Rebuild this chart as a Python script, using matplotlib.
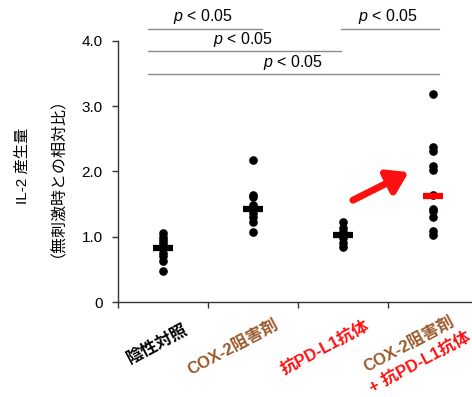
import matplotlib
matplotlib.use("Agg")
import matplotlib.pyplot as plt
import matplotlib.transforms as mtransforms

plt.rcParams['font.family'] = ['Liberation Sans', 'Noto Sans CJK JP']
plt.rcParams['mathtext.fontset'] = 'custom'
plt.rcParams['mathtext.it'] = 'Liberation Sans:italic'
plt.rcParams['mathtext.rm'] = 'Liberation Sans'

# data
groups = ["陰性対照", "COX-2阻害剤", "抗PD-L1抗体", "COX-2阻害剤\n+ 抗PD-L1抗体"]
values = [
    [1.05, 1.00, 0.95, 0.90, 0.82, 0.75, 0.70, 0.63, 0.47],
    [2.18, 1.64, 1.61, 1.49, 1.44, 1.36, 1.31, 1.23, 1.08],
    [1.23, 1.13, 1.08, 1.03, 0.98, 0.90, 0.85],
    [3.19, 2.38, 2.32, 2.08, 2.03, 1.64, 1.43, 1.40, 1.31, 1.09, 1.03],
]
means = [0.82, 1.43, 1.03, 1.63]
mean_colors = ["black", "black", "black", "red"]
# significance brackets: (x start, x end, y)
sig_lines = [(-0.17, 1.10, 4.19), (1.98, 3.07, 4.19), (-0.17, 1.98, 3.84), (-0.17, 3.07, 3.49)]
sig_text_x = [0.44, 2.5, 0.89, 1.44]
sig_label = "$p$ < 0.05"
yticks = [0, 1.0, 2.0, 3.0, 4.0]
ytick_labels = ["0", "1.0", "2.0", "3.0", "4.0"]

brown = "#9A5A2C"
red = "#FF1010"

fig = plt.figure(figsize=(4.72, 3.97), dpi=100)
ax = fig.add_axes([118 / 472, 95 / 397, 360 / 472, 261 / 397])

for i, vals in enumerate(values):
    ax.plot([i] * len(vals), vals, 'o', color='black', ms=5.2, mec='black', zorder=3)
    ax.plot([i], [means[i]], marker='_', ms=14.5, mew=4.5, color=mean_colors[i], zorder=4)

ax.set_xlim(-0.5, 3.5)
ax.set_ylim(0, 4.0)
ax.set_yticks(yticks)
ax.set_yticklabels(ytick_labels, fontsize=11)
ax.set_xticks([-0.5, 0.5, 1.5, 2.5, 3.5])
ax.set_xticklabels([])
ax.tick_params(axis='both', direction='out', length=4, width=1, color='#333333')
ax.tick_params(axis='y', pad=7)
for s in ['top', 'right']:
    ax.spines[s].set_visible(False)
for s in ['left', 'bottom']:
    ax.spines[s].set_color('#333333')
    ax.spines[s].set_linewidth(1)

# significance lines
for (x0, x1, y), tx in zip(sig_lines, sig_text_x):
    ax.plot([x0, x1], [y, y], color='#8c8c8c', lw=1, clip_on=False)
    ax.text(tx, y + 0.04, sig_label, ha='center', va='bottom', fontsize=11.5, clip_on=False)

# arrow
ax.annotate("", xy=(2.73, 1.99), xytext=(2.11, 1.56),
            arrowprops=dict(arrowstyle='-|>,head_width=0.55,head_length=0.85', lw=5,
                            color=red, shrinkA=0, shrinkB=0, mutation_scale=14))

# y label
ax.text(-0.264, 0.52, "IL-2 産生量", transform=ax.transAxes, rotation=90,
        ha='center', va='center', fontsize=11)
ax.text(-0.19, 0.51, "（無刺激時との相対比）", transform=ax.transAxes, rotation=90,
        ha='center', va='center', fontsize=11.5)

# category labels
xt = ax.get_xaxis_transform()
def off(dx, dy):
    return mtransforms.offset_copy(xt, fig=fig, x=dx, y=dy, units='dots')

lab_kw = dict(rotation=28, rotation_mode='anchor', fontsize=12, fontweight='bold')
ax.text(0, 0, groups[0], transform=off(20, -19), ha='right', va='top', color='black', **lab_kw)
ax.text(1, 0, groups[1], transform=off(21, -15), ha='right', va='top', color=brown, **lab_kw)
ax.text(2, 0, groups[2], transform=off(22, -16), ha='right', va='top', color=red, **lab_kw)
line1, line2 = groups[3].split("\n")
ax.text(3, 0, line1, transform=off(-66, -70), ha='left', va='baseline', color=brown, **lab_kw)
ax.text(3, 0, line2, transform=off(-60, -91), ha='left', va='baseline', color=red, **lab_kw)

fig.savefig("out.png", dpi=100)
